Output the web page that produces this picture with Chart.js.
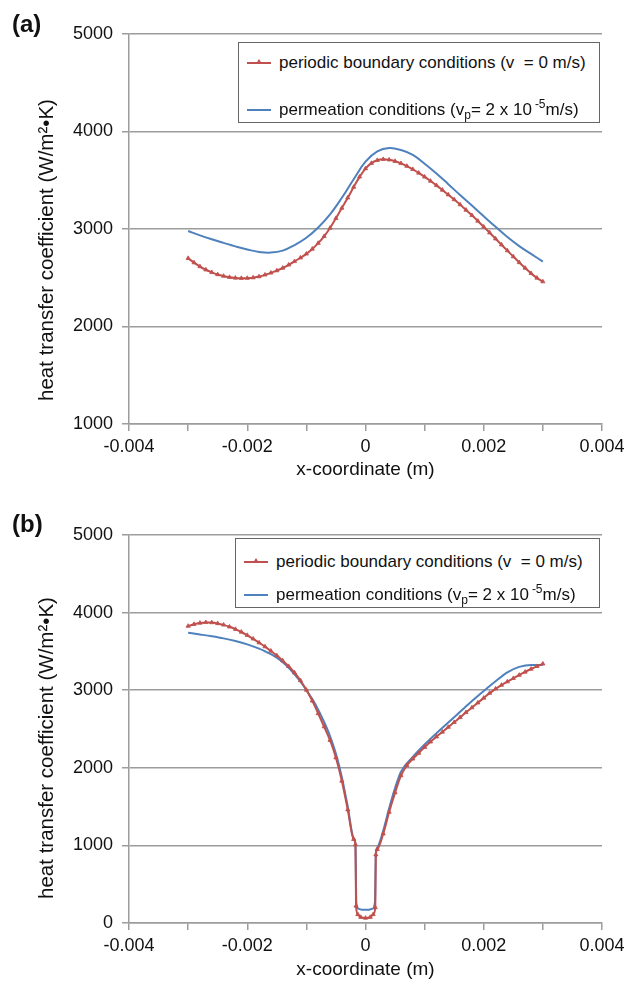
<!DOCTYPE html>
<html>
<head>
<meta charset="utf-8">
<script src="https://cdn.jsdelivr.net/npm/chart.js@4.4.1/dist/chart.umd.min.js"></script>
<style>
  body { margin: 0; background: #fff; font-family: "Liberation Sans", Arial, sans-serif; color: #111; }
  #page { position: relative; width: 636px; height: 986px; overflow: hidden; }
  .panel { position: absolute; left: 0; width: 636px; }
  .tag { position: absolute; left: 12px; font-weight: bold; font-size: 24px; }
  .ytitle { position: absolute; left: 46px; font-size: 20.5px; white-space: nowrap;
            transform: translate(-50%, -50%) rotate(-90deg); }
  .legend { position: absolute; border: 1.5px solid #666; background: #fff; font-size: 17px; }
  .row { position: absolute; left: 8px; white-space: nowrap; line-height: 20px; }
  .sample { display: inline-block; width: 24px; height: 2px; vertical-align: middle; margin-right: 8px; position: relative; top: -1px; }
  .sample.red { background: #C0504D; }
  .sample.red::after { content: ""; position: absolute; left: 9px; top: -3px; border-left: 3px solid transparent;
                       border-right: 3px solid transparent; border-bottom: 5px solid #C0504D; }
  .sample.blue { background: #4F81BD; }
  sub { font-size: 12px; vertical-align: -4px; }
  sup { font-size: 12px; vertical-align: 7px; margin-left: 3px; }
</style>
</head>
<body>
<div id="page">
  <div class="panel" style="top:0;height:490px;"><canvas id="chartA" width="636" height="490"></canvas></div>
  <div class="panel" style="top:500px;height:486px;"><canvas id="chartB" width="636" height="486"></canvas></div>

  <div class="tag" style="top:10px;">(a)</div>
  <div class="tag" style="top:510px;">(b)</div>

  <div class="ytitle" style="top:250px;">heat transfer coefficient (W/m²•K)</div>
  <div class="ytitle" style="top:748px;">heat transfer coefficient (W/m²•K)</div>

  <div class="legend" style="left:238px;top:42px;width:360px;height:79px;">
    <div class="row" style="top:10px;"><span class="sample red"></span>periodic boundary conditions (v &nbsp;= 0 m/s)</div>
    <div class="row" style="top:51px;"><span class="sample blue"></span>permeation conditions (v<sub>p</sub>= 2 x 10<sup>-5</sup>m/s)</div>
  </div>
  <div class="legend" style="left:235px;top:538px;width:363px;height:68px;">
    <div class="row" style="top:13px;"><span class="sample red"></span>periodic boundary conditions (v &nbsp;= 0 m/s)</div>
    <div class="row" style="top:40px;"><span class="sample blue"></span>permeation conditions (v<sub>p</sub>= 2 x 10<sup>-5</sup>m/s)</div>
  </div>
</div>

<script>
// x-axis labels that are printed (ticks every 0.001, labels every 0.002)
const xLabelled = [-0.004, -0.002, 0, 0.002, 0.004];

// ---- panel (a) ----
const xRedA = [-0.0030, -0.0029, -0.0028, -0.0027, -0.0026, -0.0025, -0.0024, -0.0023, -0.0022, -0.0021,
  -0.0020, -0.0019, -0.0018, -0.0017, -0.0016, -0.0015, -0.0014, -0.0013, -0.0012, -0.0011,
  -0.0010, -0.0009, -0.0008, -0.0007, -0.0006, -0.0005, -0.0004, -0.0003, -0.0002, -0.0001,
  0, 0.0001, 0.0002, 0.0003, 0.0004, 0.0005, 0.0006, 0.0007, 0.0008, 0.0009,
  0.0010, 0.0011, 0.0012, 0.0013, 0.0014, 0.0015, 0.0016, 0.0017, 0.0018, 0.0019,
  0.0020, 0.0021, 0.0022, 0.0023, 0.0024, 0.0025, 0.0026, 0.0027, 0.0028, 0.0029, 0.0030];
const redA = [2700, 2655, 2615, 2582, 2555, 2533, 2517, 2505, 2498, 2495,
  2496, 2501, 2512, 2530, 2550, 2573, 2600, 2632, 2668, 2705,
  2745, 2795, 2855, 2925, 3010, 3110, 3215, 3320, 3430, 3535,
  3620, 3675, 3705, 3715, 3710, 3695, 3673, 3645, 3612, 3575,
  3535, 3492, 3447, 3400, 3352, 3302, 3250, 3195, 3140, 3082,
  3022, 2962, 2900, 2839, 2778, 2717, 2657, 2600, 2545, 2498, 2460];

const xBlueA = [-0.0030, -0.0028, -0.0026, -0.0024, -0.0022, -0.0020, -0.0018, -0.0016, -0.0014, -0.0012,
  -0.0010, -0.0008, -0.0006, -0.0004, -0.0002, 0, 0.0002, 0.0004, 0.0006, 0.0008,
  0.0010, 0.0012, 0.0014, 0.0016, 0.0018, 0.0020, 0.0022, 0.0024, 0.0026, 0.0028, 0.0030];
const blueA = [2980, 2935, 2895, 2858, 2822, 2790, 2765, 2758, 2778, 2835,
  2910, 3015, 3150, 3320, 3510, 3690, 3795, 3830, 3810, 3760,
  3670, 3570, 3460, 3348, 3240, 3130, 3022, 2918, 2825, 2745, 2665];

// ---- panel (b) ----
const xRedB = [-0.0030, -0.0029, -0.0028, -0.0027, -0.0026, -0.0025, -0.0024, -0.0023, -0.0022, -0.0021,
  -0.0020, -0.0019, -0.0018, -0.0017, -0.0016, -0.0015, -0.0014, -0.0013, -0.0012, -0.0011,
  -0.0010, -0.0009, -0.0008, -0.0007, -0.0006, -0.0005, -0.0004, -0.0003, -0.0002,
  -0.00017, -0.00016, -0.00013, -0.00008, 0, 0.00008, 0.00013, 0.000165, 0.000175,
  0.0002, 0.0003, 0.0004, 0.0005, 0.0006, 0.0007, 0.0008, 0.0009,
  0.0010, 0.0011, 0.0012, 0.0013, 0.0014, 0.0015, 0.0016, 0.0017, 0.0018, 0.0019,
  0.0020, 0.0021, 0.0022, 0.0023, 0.0024, 0.0025, 0.0026, 0.0027, 0.0028, 0.0029, 0.0030];
const redB = [3826, 3850, 3866, 3874, 3872, 3860, 3842, 3817, 3786, 3750,
  3708, 3662, 3612, 3562, 3506, 3446, 3380, 3308, 3225, 3125,
  3003, 2862, 2700, 2530, 2355, 2130, 1830, 1460, 1080,
  1010, 220, 110, 75, 64, 75, 110, 200, 880,
  950, 1150, 1430, 1680, 1900, 2030, 2115, 2190,
  2265, 2335, 2400, 2462, 2524, 2586, 2650, 2714, 2776, 2838,
  2900, 2962, 3018, 3066, 3110, 3153, 3195, 3235, 3273, 3308, 3340];

const xBlueB = [-0.0030, -0.0028, -0.0026, -0.0024, -0.0022, -0.0020, -0.0018, -0.0017, -0.0016, -0.0015,
  -0.0014, -0.0013, -0.0012, -0.0011, -0.0010, -0.0009, -0.0008, -0.0007, -0.0006, -0.0005,
  -0.0004, -0.0003, -0.0002, -0.00017, -0.000155, -0.00012, -0.00006,
  0, 0.00006, 0.00012, 0.00016, 0.000175, 0.0002, 0.0003, 0.0004, 0.0005, 0.0006,
  0.0008, 0.0010, 0.0012, 0.0014, 0.0016, 0.0018, 0.0020, 0.0022, 0.0024, 0.0026, 0.0028, 0.0030];
const blueB = [3740, 3718, 3695, 3668, 3633, 3590, 3535, 3502, 3465, 3418,
  3360, 3290, 3205, 3110, 3003, 2885, 2750, 2590, 2410, 2180,
  1880, 1500, 1090, 1020, 260, 185, 172,
  170, 172, 185, 270, 900, 970, 1190, 1480, 1740, 1950,
  2140, 2300, 2445, 2583, 2722, 2860, 2990, 3115, 3230, 3300, 3325, 3325];

const RED = '#C0504D';
const BLUE = '#4F81BD';
const GRID = '#9c9c9c';
const FONT = "'Liberation Sans', Arial, sans-serif";

function pts(xs, ys) {
  return xs.map((x, i) => ({ x: x, y: ys[i] }));
}

function makeChart(id, red, blue, yMin, padTop, xHeight, titlePad, smooth) {
  const curve = smooth === 'monotone' ? { cubicInterpolationMode: 'monotone' } : { tension: 0.4 };
  return new Chart(document.getElementById(id), {
    type: 'line',
    data: {
      datasets: [
        Object.assign({
          label: 'periodic',
          data: red,
          borderColor: RED,
          backgroundColor: RED,
          borderWidth: 2,
          pointStyle: 'triangle',
          pointRadius: 2.4,
          pointBorderWidth: 0.8
        }, curve),
        Object.assign({
          label: 'permeation',
          data: blue,
          borderColor: BLUE,
          backgroundColor: BLUE,
          borderWidth: 2,
          pointRadius: 0
        }, curve)
      ]
    },
    options: {
      responsive: false,
      animation: false,
      layout: { padding: { left: 0, right: 34, top: padTop, bottom: 0 } },
      plugins: { legend: { display: false }, tooltip: { enabled: false } },
      scales: {
        x: {
          type: 'linear',
          min: -0.004,
          max: 0.004,
          afterFit: s => { s.height = xHeight; },
          ticks: {
            stepSize: 0.001,
            autoSkip: false,
            maxRotation: 0,
            padding: 5,
            color: '#111',
            font: { family: FONT, size: 18 },
            callback: function (value) {
              const hit = xLabelled.find(t => Math.abs(t - value) < 1e-9);
              return hit === undefined ? '' : String(hit);
            }
          },
          grid: { drawOnChartArea: false, drawTicks: true, tickLength: 7, tickColor: GRID, lineWidth: 1.5 },
          border: { display: true, color: GRID, width: 1.5 },
          title: {
            display: true,
            text: 'x-coordinate (m)',
            color: '#111',
            font: { family: FONT, size: 19 },
            padding: { top: 0, bottom: titlePad }
          }
        },
        y: {
          min: yMin,
          max: 5000,
          afterFit: s => { s.width = 129; },
          ticks: {
            stepSize: 1000,
            padding: 9,
            color: '#111',
            font: { family: FONT, size: 18 },
            callback: value => String(value)
          },
          grid: { color: GRID, lineWidth: 1.5, tickLength: 7, tickColor: GRID },
          border: { display: true, color: GRID, width: 1.5 }
        }
      }
    }
  });
}

makeChart('chartA', pts(xRedA, redA), pts(xBlueA, blueA), 1000, 34, 66, 8.6, 'tension');
makeChart('chartB', pts(xRedB, redB), pts(xBlueB, blueB), 0, 35, 63, 4.6, 'monotone');
</script>
</body>
</html>
